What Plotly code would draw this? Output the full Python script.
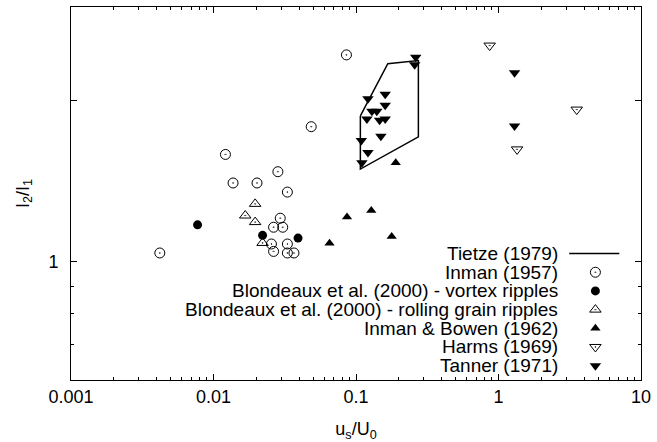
import plotly.graph_objects as go

# ---- data ----
tietze_x = [0.1073, 0.1672, 0.274, 0.274, 0.1073, 0.1073]
tietze_y = [1.875, 2.349, 2.381, 1.713, 1.491, 1.875]

inman_x = [0.0042, 0.01213, 0.0283, 0.01372, 0.0202, 0.033, 0.0294, 0.0264, 0.0306,
           0.0255, 0.033, 0.0264, 0.033, 0.0367, 0.0857, 0.0485]
inman_y = [1.038, 1.588, 1.474, 1.404, 1.404, 1.35, 1.206, 1.16, 1.16,
           1.079, 1.079, 1.045, 1.038, 1.038, 2.44, 1.79]

vortex_x = [0.00773, 0.0221, 0.0392]
vortex_y = [1.172, 1.12, 1.107]

rolling_x = [0.0196, 0.0167, 0.0196, 0.0221]
rolling_y = [1.283, 1.22, 1.186, 1.084]

ib_x = [0.190, 0.128, 0.0865, 0.178, 0.0652]
ib_y = [1.532, 1.247, 1.212, 1.115, 1.083]

harms_x = [0.867, 3.54, 1.35]
harms_y = [2.54, 1.927, 1.623]

tanner_x = [0.2625, 0.258, 0.1213, 0.1603, 0.1603, 0.1293, 0.140, 0.1193, 0.1464,
            0.1603, 0.1495, 0.109, 0.1213, 0.110, 1.296, 1.296]
tanner_y = [2.415, 2.339, 2.02, 2.058, 1.963, 1.913, 1.913, 1.851, 1.84,
            1.851, 1.718, 1.687, 1.602, 1.532, 2.259, 1.796]

x_ticks = [0.001, 0.01, 0.1, 1, 10]
x_ticklabels = ["0.001", "0.01", "0.1", "1", "10"]
y_ticks = [1, 2]
y_ticklabels = ["1", ""]

legend_names = ["Tietze (1979)", "Inman (1957)", "Blondeaux et al. (2000) - vortex ripples",
                "Blondeaux et al. (2000) - rolling grain ripples", "Inman & Bowen (1962)",
                "Harms (1969)", "Tanner (1971)"]

FONT = "Liberation Sans, Arial, Helvetica, sans-serif"
FS = 18
LFS = 19
K = "black"

styles = [
    None,
    dict(symbol="circle-open-dot", size=10, color=K, line=dict(width=1, color=K)),
    dict(symbol="circle", size=9, color=K),
    dict(symbol="triangle-up-open-dot", size=10, color=K, line=dict(width=1, color=K)),
    dict(symbol="triangle-up", size=9, color=K),
    dict(symbol="triangle-down-open-dot", size=10, color=K, line=dict(width=1, color=K)),
    dict(symbol="triangle-down", size=10, color=K),
]
series = [
    (tietze_x, tietze_y),
    (inman_x, inman_y),
    (vortex_x, vortex_y),
    (rolling_x, rolling_y),
    (ib_x, ib_y),
    (harms_x, harms_y),
    (tanner_x, tanner_y),
]

fig = go.Figure()
for i, ((xs, ys), st) in enumerate(zip(series, styles)):
    if st is None:
        fig.add_trace(go.Scatter(x=xs, y=ys, mode="lines", name=legend_names[i],
                                 line=dict(color=K, width=1.5), showlegend=False))
    else:
        fig.add_trace(go.Scatter(x=xs, y=ys, mode="markers", name=legend_names[i],
                                 marker=st, showlegend=False))

# manual gnuplot-style key (text right-aligned, sample to the right)
row0 = 0.339
step = 18.8 / 375.3
text_x = 0.8585
sym_x = 0.92
annotations = []
for i, name in enumerate(legend_names):
    yy = row0 - i * step
    annotations.append(dict(x=text_x, y=yy, xref="paper", yref="paper", text=name,
                            showarrow=False, xanchor="right", yanchor="middle",
                            font=dict(family=FONT, size=LFS, color=K)))
    if styles[i] is None:
        fig.add_trace(go.Scatter(x=[0.874, 0.962], y=[yy, yy], mode="lines",
                                 line=dict(color=K, width=1.5), xaxis="x2", yaxis="y2",
                                 showlegend=False, hoverinfo="skip"))
    else:
        fig.add_trace(go.Scatter(x=[sym_x], y=[yy], mode="markers", marker=styles[i],
                                 xaxis="x2", yaxis="y2", showlegend=False, hoverinfo="skip"))

x_minor = [m * d for d in [0.001, 0.01, 0.1, 1] for m in range(2, 10)]
y_minor = [0.7, 0.8, 0.9]

axis_common = dict(showline=True, linecolor=K, linewidth=1, mirror="allticks",
                   ticks="inside", ticklen=6, tickcolor=K, tickwidth=1,
                   showgrid=False, zeroline=False,
                   tickfont=dict(family=FONT, size=FS, color=K))

fig.update_layout(
    width=657, height=442,
    margin=dict(l=71, r=13, t=6, b=61),
    paper_bgcolor="white", plot_bgcolor="white",
    showlegend=False,
    font=dict(family=FONT, size=FS, color=K),
    xaxis=dict(type="log", range=[-3, 1], tickmode="array", tickvals=x_ticks,
               ticktext=x_ticklabels, ticklabelstandoff=0,
               minor=dict(tickmode="array", tickvals=x_minor, ticks="inside", ticklen=3,
                          tickcolor=K, showgrid=False),
               title=dict(text="u<sub>s</sub>/U<sub>0</sub>", font=dict(family=FONT, size=FS),
                          standoff=17),
               **axis_common),
    yaxis=dict(type="log", range=[-0.2218, 0.4771], tickmode="array", tickvals=y_ticks,
               ticktext=y_ticklabels, ticklabelstandoff=8,
               minor=dict(tickmode="array", tickvals=y_minor, ticks="inside", ticklen=3,
                          tickcolor=K, showgrid=False),
               title=dict(text="I<sub>2</sub>/I<sub>1</sub>", font=dict(family=FONT, size=FS),
                          standoff=14),
               **axis_common),
    xaxis2=dict(overlaying="x", range=[0, 1], visible=False, fixedrange=True),
    yaxis2=dict(overlaying="y", range=[0, 1], visible=False, fixedrange=True),
    annotations=annotations,
)

fig.write_html("out.html")
